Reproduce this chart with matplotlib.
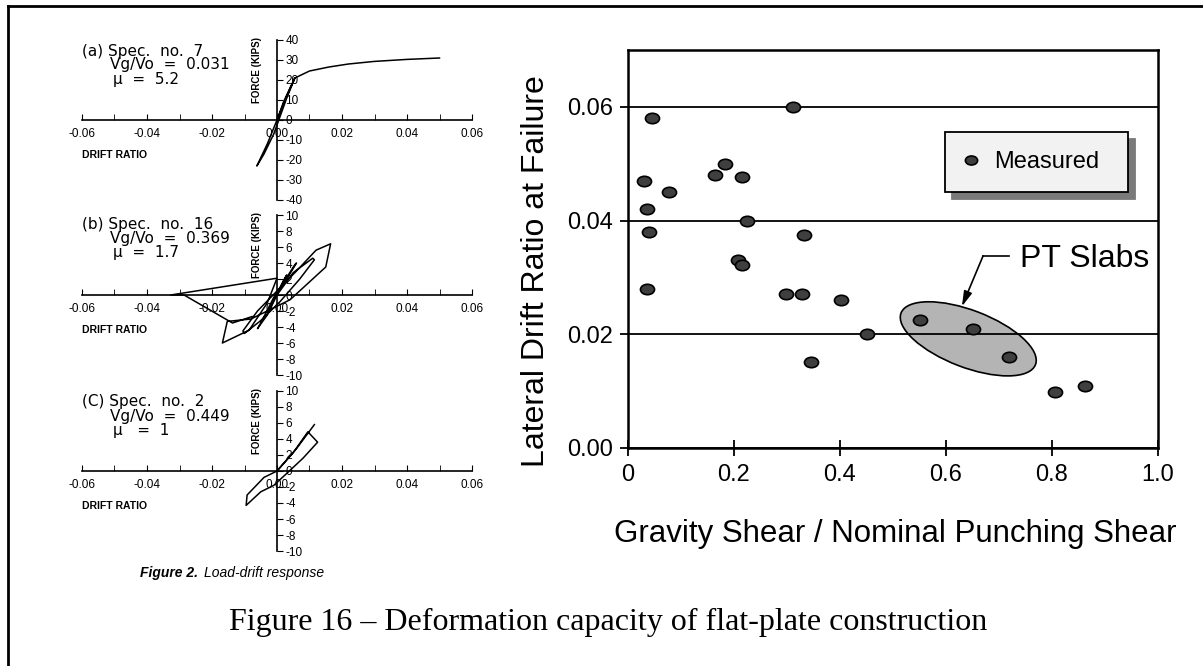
import numpy as np
import matplotlib.pyplot as plt
from matplotlib.patches import Ellipse
from matplotlib.markers import MarkerStyle
from matplotlib.transforms import Affine2D, ScaledTranslation
from matplotlib.lines import Line2D

plt.rcParams['font.family'] = ['Liberation Sans', 'DejaVu Sans']

W, H = 1203, 666

# right chart: measured drift capacity vs gravity shear ratio
shear_ratio = [0.045, 0.031, 0.035, 0.040, 0.035, 0.077, 0.165, 0.183, 0.216, 0.225,
               0.207, 0.216, 0.312, 0.333, 0.299, 0.329, 0.402, 0.346, 0.450, 0.551,
               0.650, 0.719, 0.805, 0.862]
drift_at_failure = [0.058, 0.047, 0.042, 0.038, 0.028, 0.045, 0.048, 0.050, 0.0476, 0.040,
                    0.0331, 0.0321, 0.060, 0.0375, 0.027, 0.027, 0.026, 0.0151, 0.020, 0.0225,
                    0.0209, 0.0160, 0.0099, 0.0109]
x_ticks = [0, 0.2, 0.4, 0.6, 0.8, 1.0]
x_ticklabels = ['0', '0.2', '0.4', '0.6', '0.8', '1.0']
y_ticks = [0, 0.02, 0.04, 0.06]
y_ticklabels = ['0.00', '0.02', '0.04', '0.06']

# PT slab group (ellipse centre, data units) and its callout
pt_center = (0.642, 0.0192)
pt_text_xy = (0.740, 0.0333)
pt_elbow = (0.670, 0.0338)
pt_tip = (0.630, 0.0249)

# left panels: load-drift hysteresis (drift ratio, force in kips)
a_drift = [0.0, 0.002, 0.004, 0.0055, 0.003, 0.0, -0.003, -0.0062, -0.004, -0.001,
           0.001, 0.003, 0.0055, 0.010, 0.016, 0.022, 0.030, 0.040, 0.050]
a_force = [0, 9, 16, 21, 12, 0, -12, -23, -17, -7, 2, 11, 21, 24.5, 26.5, 28, 29.3, 30.3, 31]

b_drift = [0.0, 0.002, 0.003, 0.001, -0.001, -0.003, -0.002, 0.0,
           0.003, 0.0055, 0.006, 0.003, -0.001, -0.005, -0.006, -0.003, 0.0,
           0.005, 0.011, 0.0115, 0.007, 0.001, -0.005, -0.010, -0.0105, -0.006, 0.0,
           0.006, 0.012, 0.0165, 0.015, 0.004, -0.008, -0.0153, -0.0168, -0.0086, -0.003, 0.0,
           -0.0327, -0.0286, -0.0137, -0.0077]
b_force = [0.0, 1.8, 2.5, 1.0, -0.5, -2.2, -1.5, 0.2,
           2.2, 3.8, 4.0, 2.0, -0.3, -3.5, -4.2, -2.5, 0.0,
           2.8, 4.6, 4.4, 2.0, -0.8, -3.2, -4.8, -4.5, -2.0, 0.5,
           3.0, 5.6, 6.4, 3.5, -0.6, -3.0, -3.3, -6.0, -4.4, -1.0, 2.1,
           0.0, 0.0, -3.5, -2.7]

c_drift = [0.0, 0.005, 0.0095, 0.0125, 0.008, 0.003, -0.001, -0.005, -0.0095, -0.0092,
           -0.004, 0.0, 0.006, 0.0115]
c_force = [0.0, 2.3, 4.9, 3.6, 1.6, -0.3, -1.8, -2.6, -4.3, -3.0, -0.8, 0.0, 2.8, 5.8]

drift_ticks = [-0.06, -0.04, -0.02, 0.0, 0.02, 0.04, 0.06]
drift_ticklabels = ['-0.06', '-0.04', '-0.02', '0.00', '0.02', '0.04', '0.06']

fig = plt.figure(figsize=(W / 100, H / 100), dpi=100)


def px_rect(x0, y_top, x1, y_bot):
    return [x0 / W, 1 - y_bot / H, (x1 - x0) / W, (y_bot - y_top) / H]


def panel(rect, drift, force, flim, fstep, notes, baselines):
    pax = fig.add_axes(rect)
    pax.patch.set_alpha(0)
    pax.plot(drift, force, color='black', lw=1.1)
    pax.set_xlim(-0.06, 0.06)
    pax.set_ylim(-flim, flim)
    pax.spines['right'].set_position(('data', 0))
    pax.spines['bottom'].set_position(('data', 0))
    pax.spines['top'].set_visible(False)
    pax.spines['left'].set_visible(False)
    for s in ('right', 'bottom'):
        pax.spines[s].set_linewidth(1.2)
    pax.yaxis.set_ticks_position('right')
    pax.set_xticks(drift_ticks, drift_ticklabels)
    pax.set_xticks(np.arange(-0.06, 0.061, 0.01), minor=True)
    fticks = np.arange(-flim, flim + 0.1, fstep)
    pax.set_yticks(fticks, [f'{v:g}' for v in fticks])
    pax.tick_params(axis='x', which='both', direction='in', length=4, labelsize=8.5, pad=5.5)
    pax.tick_params(axis='y', direction='out', length=4, labelsize=8.5, pad=2)
    pax.text(-0.0062, 0.63 * flim, 'FORCE (KIPS)', rotation=90, ha='center',
             va='center', fontsize=7, fontweight='bold')
    pax.text(-0.06, -0.44 * flim, 'DRIFT RATIO', ha='left', va='center',
             fontsize=7.5, fontweight='bold')
    xs = [82, 110, 113]
    for txt, x, yb in zip(notes, xs, baselines):
        fig.text(x / W, 1 - yb / H, txt, fontsize=11, family='DejaVu Sans',
                 va='baseline', ha='left')
    return pax


panel(px_rect(82, 40, 472, 200), a_drift, a_force, 40, 10,
      ['(a) Spec.  no.  7', 'Vg/Vo  =  0.031', 'μ  =  5.2'], [56, 69, 84])
panel(px_rect(82, 215, 472, 375), b_drift, b_force, 10, 2,
      ['(b) Spec.  no.  16', 'Vg/Vo  =  0.369', 'μ  =  1.7'], [229, 243, 257])
panel(px_rect(82, 391, 472, 551), c_drift, c_force, 10, 2,
      ['(C) Spec.  no.  2', 'Vg/Vo  =  0.449', 'μ   =  1'], [406, 421, 435])

fig.text(140 / W, 1 - 577 / H, 'Figure 2.', fontsize=10, fontweight='bold',
         style='italic', va='baseline')
fig.text(204 / W, 1 - 577 / H, 'Load-drift response', fontsize=10,
         style='italic', va='baseline')

# right chart
ax = fig.add_axes(px_rect(628, 50, 1158, 448))
ax.set_xlim(0, 1)
ax.set_ylim(0, 0.07)
ax.set_axisbelow(True)
ax.yaxis.grid(True, color='black', lw=1.3)
for s in ax.spines.values():
    s.set_linewidth(1.8)
ax.set_xticks(x_ticks, x_ticklabels)
ax.set_yticks(y_ticks, y_ticklabels)
ax.tick_params(axis='x', direction='inout', length=11, width=1.3, labelsize=17, pad=6)
ax.tick_params(axis='y', direction='out', length=6, width=1.3, labelsize=17, pad=5)

ell = Ellipse((0, 0), width=1.44, height=0.57, angle=-21,
              transform=fig.dpi_scale_trans + ScaledTranslation(*pt_center, ax.transData),
              facecolor='#b4b4b4', edgecolor='black', lw=1.2, zorder=0.4)
ax.add_patch(ell)

dot = MarkerStyle('o', transform=Affine2D().scale(1.35, 1.0))
ax.plot(shear_ratio, drift_at_failure, ls='none', marker=dot, ms=7.5,
        mfc='#3f3f3f', mec='black', mew=1.2, zorder=5, label='Measured')

ax.plot([pt_text_xy[0] - 0.022, pt_elbow[0]], [pt_elbow[1], pt_elbow[1]],
        color='black', lw=1.2)
ax.annotate('', xy=pt_tip, xytext=pt_elbow,
            arrowprops=dict(arrowstyle='-|>,head_length=0.9,head_width=0.25',
                            color='black', lw=1.2, shrinkA=0, shrinkB=0))
ax.text(pt_text_xy[0], pt_text_xy[1], 'PT Slabs', fontsize=23, ha='left', va='center')

leg = ax.legend(loc='upper left', bbox_to_anchor=(0.598, 0.641, 0.345, 0.153),
                mode='expand', fancybox=False, framealpha=1, edgecolor='black',
                facecolor='#f2f2f2', fontsize=17, borderpad=0.8, handlelength=0.6,
                handletextpad=0.7, borderaxespad=0,
                shadow={'ox': 5, 'oy': -5, 'color': '#7a7a7a', 'alpha': 1})
leg.get_frame().set_linewidth(1.3)
leg.legend_handles[0].set_markersize(6.5)

ax.set_ylabel('Lateral Drift Ratio at Failure', fontsize=23)
ax.yaxis.set_label_coords((551 - 628) / 530, 0.445)
ax.set_xlabel('Gravity Shear / Nominal Punching Shear', fontsize=22.5)
ax.xaxis.set_label_coords(0.504, -(542 - 448) / 398)
ax.xaxis.label.set_va('baseline')

fig.text(608 / W, 1 - 630 / H,
         'Figure 16 – Deformation capacity of flat-plate construction',
         family=['Liberation Serif', 'DejaVu Serif'], fontsize=23,
         ha='center', va='baseline')

# page frame (left and top edges)
fig.add_artist(Line2D([8 / W, 8 / W], [0, 1 - 6 / H], transform=fig.transFigure,
                      color='black', lw=2))
fig.add_artist(Line2D([8 / W, 1], [1 - 6 / H, 1 - 6 / H], transform=fig.transFigure,
                      color='black', lw=2))

fig.savefig('out.png', dpi=100)
